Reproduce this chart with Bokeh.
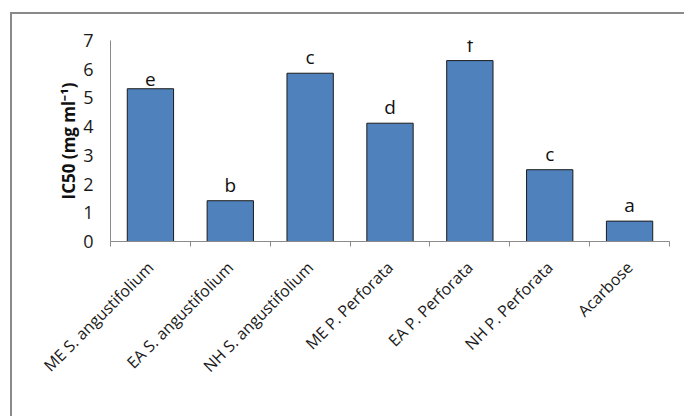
import math
from bokeh.plotting import figure
from bokeh.models import Range1d, FixedTicker, Label, ColumnDataSource
from bokeh.core.properties import value
from bokeh.embed import file_html
from bokeh.resources import INLINE

categories = ["ME S. angustifolium", "EA S. angustifolium", "NH S. angustifolium",
              "ME P. Perforata", "EA P. Perforata", "NH P. Perforata", "Acarbose"]
ic50 = [5.32, 1.42, 5.86, 4.12, 6.30, 2.50, 0.71]
letters = ["e", "b", "c", "d", "f", "c", "a"]
y_ticks = [0, 1, 2, 3, 4, 5, 6, 7]

FONT = "Open Sans"
xs = [i + 0.5 for i in range(len(categories))]
src = ColumnDataSource(dict(x=xs, v=ic50, lab=letters))

W, H = 684, 416
p = figure(width=W, height=H, output_backend="svg", toolbar_location=None,
           x_range=Range1d(0, len(categories)), y_range=Range1d(0, 7),
           min_border_left=110, min_border_right=15, min_border_top=40,
           min_border_bottom=175)
p.outline_line_color = None
p.border_fill_color = None
p.background_fill_color = None
p.xgrid.visible = False
p.ygrid.visible = False
# chart-area border (left and top edges; right and bottom fall outside the picture)
p.styles = {
    "background-color": "white",
    "background-image": "linear-gradient(#8a8a8a, #8a8a8a), linear-gradient(#8a8a8a, #8a8a8a)",
    "background-size": "2px 100%, 100% 2px",
    "background-position": "10px 12px, 10px 12px",
    "background-repeat": "no-repeat",
}

p.vbar(x="x", top="v", width=0.58, source=src, fill_color="#4F81BD",
       line_color="#1a1a1a", line_width=1)
p.text(x="x", y="v", text="lab", source=src, y_offset=-3, text_align="center",
       text_baseline="bottom", text_font=value(FONT), text_font_size="19px",
       text_color="#111111")

# x axis
xa = p.xaxis[0]
xa.ticker = FixedTicker(ticks=xs, minor_ticks=list(range(len(categories) + 1)))
xa.major_label_overrides = {x: c for x, c in zip(xs, categories)}
xa.major_label_orientation = math.pi / 4
xa.major_tick_out = 0
xa.major_tick_in = 0
xa.minor_tick_out = 5
xa.minor_tick_in = 0
xa.minor_tick_line_color = "#8a8a8a"
xa.axis_line_color = "#8a8a8a"
xa.major_label_text_font = FONT
xa.major_label_text_font_size = "16px"
xa.major_label_text_color = "#1a1a1a"
xa.major_label_standoff = 18

# y axis
ya = p.yaxis[0]
ya.ticker = FixedTicker(ticks=y_ticks)
ya.major_tick_out = 0
ya.major_tick_in = 0
ya.minor_tick_out = 0
ya.minor_tick_in = 0
ya.axis_line_color = "#8a8a8a"
ya.major_label_text_font = FONT
ya.major_label_text_font_size = "18px"
ya.major_label_text_color = "#1a1a1a"
ya.major_label_standoff = 17
ya.axis_label = "IC50 (mg ml\u207b\u00b9)"
ya.axis_label_text_font = FONT
ya.axis_label_text_font_size = "17px"
ya.axis_label_text_font_style = "bold"
ya.axis_label_text_color = "#111111"
ya.axis_label_standoff = 0

p.add_layout(Label(x=207, y=-156, x_units="screen", y_units="screen",
                   text="Macroalgae and Extracts", text_align="center",
                   text_baseline="middle", text_font=FONT, text_font_size="17px",
                   text_font_style="bold", text_color="#111111"))

open("out.html", "w").write(file_html(p, INLINE))
